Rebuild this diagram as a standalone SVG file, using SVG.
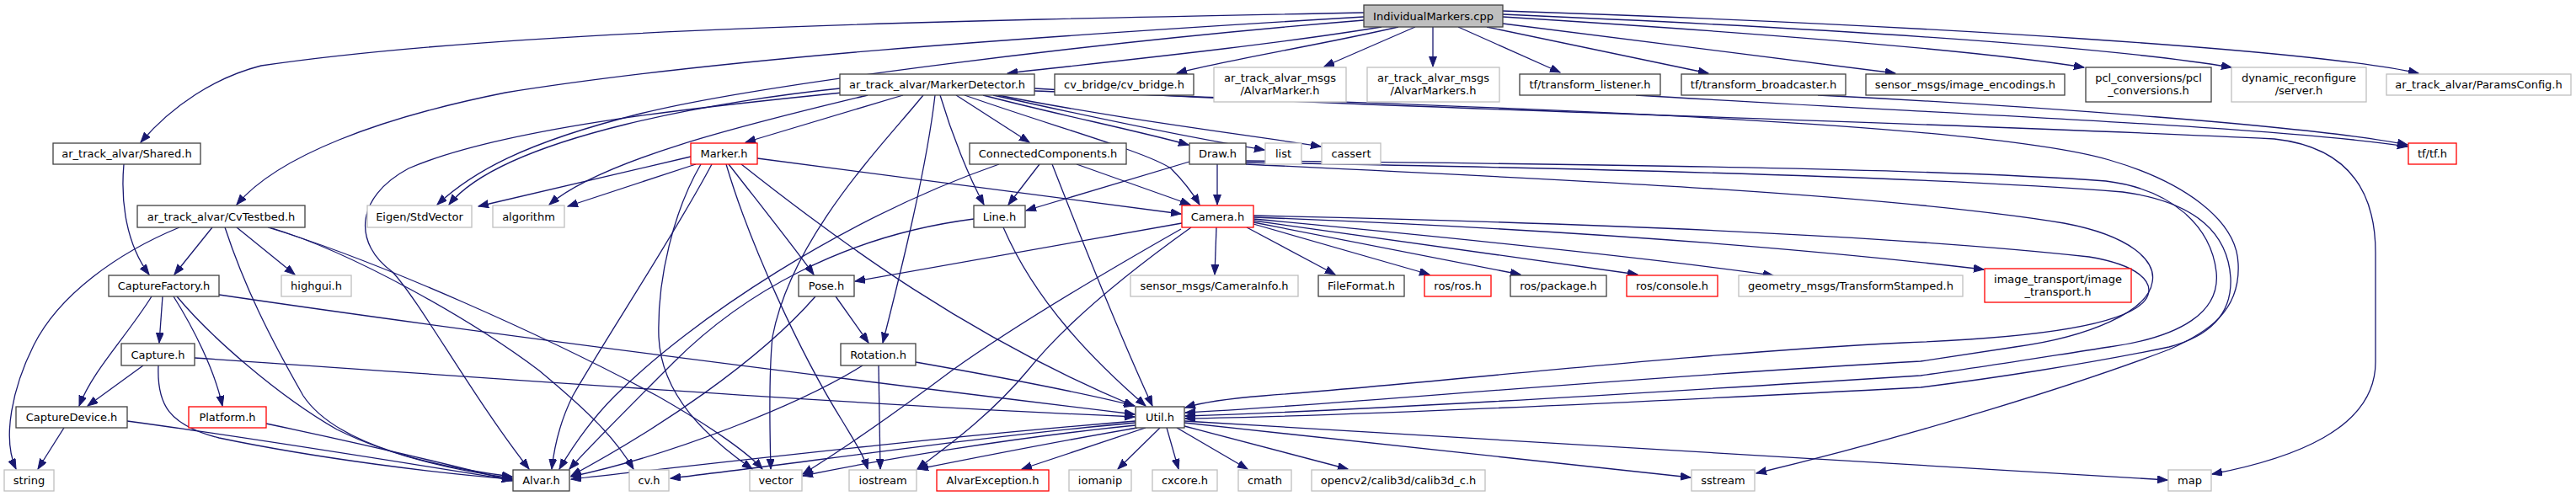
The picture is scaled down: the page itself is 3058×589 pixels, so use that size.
<svg xmlns="http://www.w3.org/2000/svg" width="3058" height="589" viewBox="0 0 3058 589">
<defs>
<style>
text{font-family:"DejaVu Sans","Liberation Sans",sans-serif;font-size:13px;text-anchor:middle;fill:#000}
rect{fill:#fff;stroke:#404040;stroke-width:1.3}
.g rect{stroke:#bfbfbf}
.r rect{stroke:#ff0000}
.m rect{fill:#bfbfbf}
#edges path{fill:none;stroke:#191970;stroke-width:1.3;marker-end:url(#a)}
</style>
<marker id="a" markerWidth="13" markerHeight="10" refX="12" refY="4.5" orient="auto" markerUnits="userSpaceOnUse"><path d="M0,0 L12,4.5 L0,9 z" fill="#191970" stroke="#191970" stroke-width="1"/></marker>
</defs>
<rect x="0" y="0" width="3058" height="589" style="fill:#fff;stroke:none"/>
<g id="edges">
<path d="M1619,15 C1100,25 600,35 310,78 C255,92 205,125 167,169"/>
<path d="M1619,20 C1200,45 850,70 600,110 C450,140 330,185 281,243"/>
<path d="M1619,24 C1300,50 900,100 760,135 C620,170 560,205 519,243"/>
<path d="M1640,32 C1500,55 1300,75 1196,87"/>
<path d="M1660,32 C1560,55 1450,72 1397,87"/>
<path d="M1680,32 L1572,79"/>
<path d="M1701,32 L1701,79"/>
<path d="M1731,32 L1852,86"/>
<path d="M1765,32 L2028,87"/>
<path d="M1784,28 L2250,87"/>
<path d="M1784,20 C2100,40 2350,60 2474,80"/>
<path d="M1784,17 C2200,35 2500,55 2649,80"/>
<path d="M1784,13 C2300,30 2750,60 2871,87"/>
<path d="M1942,113 C2300,135 2700,150 2858,174"/>
<path d="M2158,113 C2400,125 2750,150 2858,172"/>
<path d="M997,105 C870,118 600,160 533,243"/>
<path d="M1030,113 C920,140 720,185 652,243"/>
<path d="M1000,110 C850,125 600,150 485,200 C420,235 420,290 466,323 C500,360 560,470 628,557"/>
<path d="M1072,113 L885,169"/>
<path d="M1096,113 C1050,170 940,280 917,400 C912,450 914,520 915,557"/>
<path d="M1110,113 C1100,200 1070,320 1048,407"/>
<path d="M1116,113 C1130,160 1150,210 1168,243"/>
<path d="M1135,113 L1222,169"/>
<path d="M1167,113 C1250,135 1350,155 1411,172"/>
<path d="M1145,113 C1250,150 1360,180 1390,200 C1405,215 1415,228 1424,243"/>
<path d="M1179,113 C1300,140 1420,165 1501,178"/>
<path d="M1185,113 C1320,140 1480,160 1568,174"/>
<path d="M1228,105 C1600,128 2300,145 2700,165 C2790,175 2820,230 2820,300 L2820,430 C2820,510 2720,545 2626,563"/>
<path d="M1228,108 C1800,128 2350,145 2504,190 C2590,215 2655,260 2657,313 C2660,370 2620,395 2575,415 C2470,455 2280,515 2085,562"/>
<path d="M147,195 C143,240 150,290 177,326"/>
<path d="M213,270 C140,300 70,350 40,410 C15,460 2,520 19,557"/>
<path d="M252,270 L207,326"/>
<path d="M267,270 C290,340 320,400 360,470 C400,530 520,555 608,566"/>
<path d="M281,270 L350,326"/>
<path d="M320,270 C420,300 560,380 640,440 C700,490 730,520 752,557"/>
<path d="M318,270 C450,310 650,400 780,470 C850,510 890,540 905,557"/>
<path d="M193,352 L189,407"/>
<path d="M180,352 C150,400 110,440 94,482"/>
<path d="M206,352 C230,390 255,440 264,482"/>
<path d="M210,352 C250,400 330,470 400,510 C470,545 550,560 608,568"/>
<path d="M260,350 C600,400 1000,450 1347,492"/>
<path d="M170,434 L104,482"/>
<path d="M188,434 C186,480 200,505 260,520 C380,545 520,562 608,569"/>
<path d="M231,425 C600,450 1000,480 1347,495"/>
<path d="M76,508 L45,557"/>
<path d="M151,500 C300,520 450,545 608,570"/>
<path d="M316,503 C420,525 520,548 608,571"/>
<path d="M820,186 L568,245"/>
<path d="M826,195 L674,245"/>
<path d="M899,188 L1402,254"/>
<path d="M865,195 C900,240 940,290 966,326"/>
<path d="M832,195 C800,250 780,330 782,400 C785,470 840,520 893,557"/>
<path d="M845,195 C800,280 720,400 680,470 C665,500 658,530 655,557"/>
<path d="M862,195 C890,290 950,420 1000,500 C1015,525 1025,540 1030,557"/>
<path d="M880,195 C1000,290 1150,400 1346,482"/>
<path d="M992,352 L1031,407"/>
<path d="M968,352 C900,430 780,510 678,565"/>
<path d="M1043,434 L1045,557"/>
<path d="M1024,434 C950,480 800,540 678,566"/>
<path d="M1087,430 C1200,450 1300,470 1347,482"/>
<path d="M1156,260 C1000,280 880,350 800,430 C740,490 700,530 676,557"/>
<path d="M1191,270 C1230,360 1300,430 1360,482"/>
<path d="M1234,195 L1197,243"/>
<path d="M1278,195 L1413,243"/>
<path d="M1186,195 C1000,260 820,380 730,470 C700,500 680,530 664,557"/>
<path d="M1249,195 C1290,300 1330,400 1368,482"/>
<path d="M1412,192 L1218,250"/>
<path d="M1445,195 L1445,243"/>
<path d="M1479,191 C1900,195 2300,200 2500,215 C2580,225 2625,270 2631,323 C2636,370 2590,400 2504,412 C2420,425 2340,438 2280,446 C1900,470 1600,488 1407,494"/>
<path d="M1479,193 C1900,200 2300,210 2520,228 C2610,240 2645,280 2648,330 C2650,375 2620,400 2575,412 C2480,432 2360,450 2280,460 C1900,480 1600,494 1407,497"/>
<path d="M1479,195 C1900,215 2250,232 2450,265 C2530,280 2560,310 2555,335 C2550,370 2480,400 2392,412 C2340,420 2300,426 2280,429 C1900,450 1600,480 1407,490"/>
<path d="M1403,265 L1015,334"/>
<path d="M1444,270 L1442,326"/>
<path d="M1480,270 L1585,326"/>
<path d="M1488,266 L1697,326"/>
<path d="M1488,264 L1805,326"/>
<path d="M1488,262 L1944,326"/>
<path d="M1488,260 C1700,280 1950,305 2105,327"/>
<path d="M1488,258 C1800,270 2100,290 2355,320"/>
<path d="M1488,256 C1900,265 2250,280 2480,305 C2540,315 2555,335 2550,350 C2540,380 2450,400 2260,407 C2000,420 1700,455 1500,470 C1450,474 1420,480 1407,484"/>
<path d="M1402,272 C1300,330 1200,390 1130,440 C1050,500 990,540 953,563"/>
<path d="M1414,270 C1330,330 1260,390 1220,440 C1170,500 1110,540 1089,557"/>
<path d="M1348,500 C1100,520 850,550 678,569"/>
<path d="M1348,502 C1150,520 950,550 796,568"/>
<path d="M1348,505 C1200,520 1050,545 953,565"/>
<path d="M1350,508 C1250,525 1150,545 1090,557"/>
<path d="M1360,508 L1213,557"/>
<path d="M1377,508 L1327,557"/>
<path d="M1385,508 L1399,557"/>
<path d="M1397,508 L1481,557"/>
<path d="M1406,506 L1600,557"/>
<path d="M1406,502 L2007,567"/>
<path d="M1406,500 L2573,570"/>
</g>
<g id="n_IM" class="m"><rect x="1619" y="6" width="165" height="26"/><text x="1701.5" y="23.5">IndividualMarkers.cpp</text></g>
<g id="n_MD"><rect x="997" y="88" width="231" height="25"/><text x="1112.5" y="105">ar_track_alvar/MarkerDetector.h</text></g>
<g id="n_cvbridge"><rect x="1252" y="88" width="165" height="25"/><text x="1334.5" y="105">cv_bridge/cv_bridge.h</text></g>
<g id="n_AlvarMarker" class="g"><rect x="1441" y="80" width="157" height="41"/><text x="1519.5" y="97">ar_track_alvar_msgs</text><text x="1519.5" y="112">/AlvarMarker.h</text></g>
<g id="n_AlvarMarkers" class="g"><rect x="1623" y="80" width="157" height="41"/><text x="1701.5" y="97">ar_track_alvar_msgs</text><text x="1701.5" y="112">/AlvarMarkers.h</text></g>
<g id="n_listener"><rect x="1804" y="88" width="167" height="25"/><text x="1887.5" y="105">tf/transform_listener.h</text></g>
<g id="n_broadcaster"><rect x="1996" y="88" width="195" height="25"/><text x="2093.5" y="105">tf/transform_broadcaster.h</text></g>
<g id="n_encodings"><rect x="2215" y="88" width="236" height="25"/><text x="2333" y="105">sensor_msgs/image_encodings.h</text></g>
<g id="n_pcl"><rect x="2476" y="80" width="149" height="41"/><text x="2550.5" y="97">pcl_conversions/pcl</text><text x="2550.5" y="112">_conversions.h</text></g>
<g id="n_dynrec" class="g"><rect x="2649" y="80" width="160" height="41"/><text x="2729" y="97">dynamic_reconfigure</text><text x="2729" y="112">/server.h</text></g>
<g id="n_params" class="g"><rect x="2833" y="88" width="219" height="25"/><text x="2942.5" y="105">ar_track_alvar/ParamsConfig.h</text></g>
<g id="n_shared"><rect x="63" y="170" width="175" height="25"/><text x="150.5" y="187">ar_track_alvar/Shared.h</text></g>
<g id="n_marker" class="r"><rect x="820" y="170" width="79" height="25"/><text x="859.5" y="187">Marker.h</text></g>
<g id="n_cc"><rect x="1151" y="170" width="186" height="25"/><text x="1244" y="187">ConnectedComponents.h</text></g>
<g id="n_draw"><rect x="1412" y="170" width="67" height="25"/><text x="1445.5" y="187">Draw.h</text></g>
<g id="n_list" class="g"><rect x="1502" y="170" width="43" height="25"/><text x="1523.5" y="187">list</text></g>
<g id="n_cassert" class="g"><rect x="1569" y="170" width="70" height="25"/><text x="1604" y="187">cassert</text></g>
<g id="n_tf" class="r"><rect x="2859" y="170" width="57" height="25"/><text x="2887.5" y="187">tf/tf.h</text></g>
<g id="n_cvtestbed"><rect x="163" y="244" width="199" height="26"/><text x="262.5" y="261.5">ar_track_alvar/CvTestbed.h</text></g>
<g id="n_eigen" class="g"><rect x="436" y="244" width="124" height="26"/><text x="498" y="261.5">Eigen/StdVector</text></g>
<g id="n_algorithm" class="g"><rect x="585" y="244" width="85" height="26"/><text x="627.5" y="261.5">algorithm</text></g>
<g id="n_line"><rect x="1156" y="244" width="61" height="26"/><text x="1186.5" y="261.5">Line.h</text></g>
<g id="n_camera" class="r"><rect x="1403" y="244" width="85" height="26"/><text x="1445.5" y="261.5">Camera.h</text></g>
<g id="n_capfactory"><rect x="129" y="327" width="131" height="25"/><text x="194.5" y="344">CaptureFactory.h</text></g>
<g id="n_highgui" class="g"><rect x="334" y="327" width="83" height="25"/><text x="375.5" y="344">highgui.h</text></g>
<g id="n_pose"><rect x="948" y="327" width="66" height="25"/><text x="981" y="344">Pose.h</text></g>
<g id="n_caminfo" class="g"><rect x="1342" y="327" width="199" height="25"/><text x="1441.5" y="344">sensor_msgs/CameraInfo.h</text></g>
<g id="n_fileformat"><rect x="1565" y="327" width="102" height="25"/><text x="1616" y="344">FileFormat.h</text></g>
<g id="n_ros" class="r"><rect x="1691" y="327" width="79" height="25"/><text x="1730.5" y="344">ros/ros.h</text></g>
<g id="n_package"><rect x="1793" y="327" width="114" height="25"/><text x="1850" y="344">ros/package.h</text></g>
<g id="n_console" class="r"><rect x="1931" y="327" width="108" height="25"/><text x="1985" y="344">ros/console.h</text></g>
<g id="n_tfstamped" class="g"><rect x="2064" y="327" width="266" height="25"/><text x="2197" y="344">geometry_msgs/TransformStamped.h</text></g>
<g id="n_imgtransport" class="r"><rect x="2356" y="319" width="174" height="40"/><text x="2443" y="336">image_transport/image</text><text x="2443" y="351">_transport.h</text></g>
<g id="n_capture"><rect x="144" y="408" width="87" height="26"/><text x="187.5" y="425.5">Capture.h</text></g>
<g id="n_rotation"><rect x="998" y="408" width="89" height="26"/><text x="1042.5" y="425.5">Rotation.h</text></g>
<g id="n_capdevice"><rect x="19" y="483" width="132" height="25"/><text x="85" y="500">CaptureDevice.h</text></g>
<g id="n_platform" class="r"><rect x="224" y="483" width="92" height="25"/><text x="270" y="500">Platform.h</text></g>
<g id="n_util"><rect x="1348" y="483" width="58" height="25"/><text x="1377" y="500">Util.h</text></g>
<g id="n_string" class="g"><rect x="5" y="558" width="59" height="25"/><text x="34.5" y="575">string</text></g>
<g id="n_alvar"><rect x="609" y="558" width="67" height="25"/><text x="642.5" y="575">Alvar.h</text></g>
<g id="n_cv" class="g"><rect x="747" y="558" width="47" height="25"/><text x="770.5" y="575">cv.h</text></g>
<g id="n_vector" class="g"><rect x="890" y="558" width="62" height="25"/><text x="921" y="575">vector</text></g>
<g id="n_iostream" class="g"><rect x="1008" y="558" width="80" height="25"/><text x="1048" y="575">iostream</text></g>
<g id="n_alvarexc" class="r"><rect x="1112" y="558" width="133" height="25"/><text x="1178.5" y="575">AlvarException.h</text></g>
<g id="n_iomanip" class="g"><rect x="1269" y="558" width="74" height="25"/><text x="1306" y="575">iomanip</text></g>
<g id="n_cxcore" class="g"><rect x="1368" y="558" width="77" height="25"/><text x="1406.5" y="575">cxcore.h</text></g>
<g id="n_cmath" class="g"><rect x="1470" y="558" width="63" height="25"/><text x="1501.5" y="575">cmath</text></g>
<g id="n_calib3d" class="g"><rect x="1557" y="558" width="206" height="25"/><text x="1660" y="575">opencv2/calib3d/calib3d_c.h</text></g>
<g id="n_sstream" class="g"><rect x="2008" y="558" width="75" height="25"/><text x="2045.5" y="575">sstream</text></g>
<g id="n_map" class="g"><rect x="2574" y="558" width="51" height="25"/><text x="2599.5" y="575">map</text></g>
</svg>
